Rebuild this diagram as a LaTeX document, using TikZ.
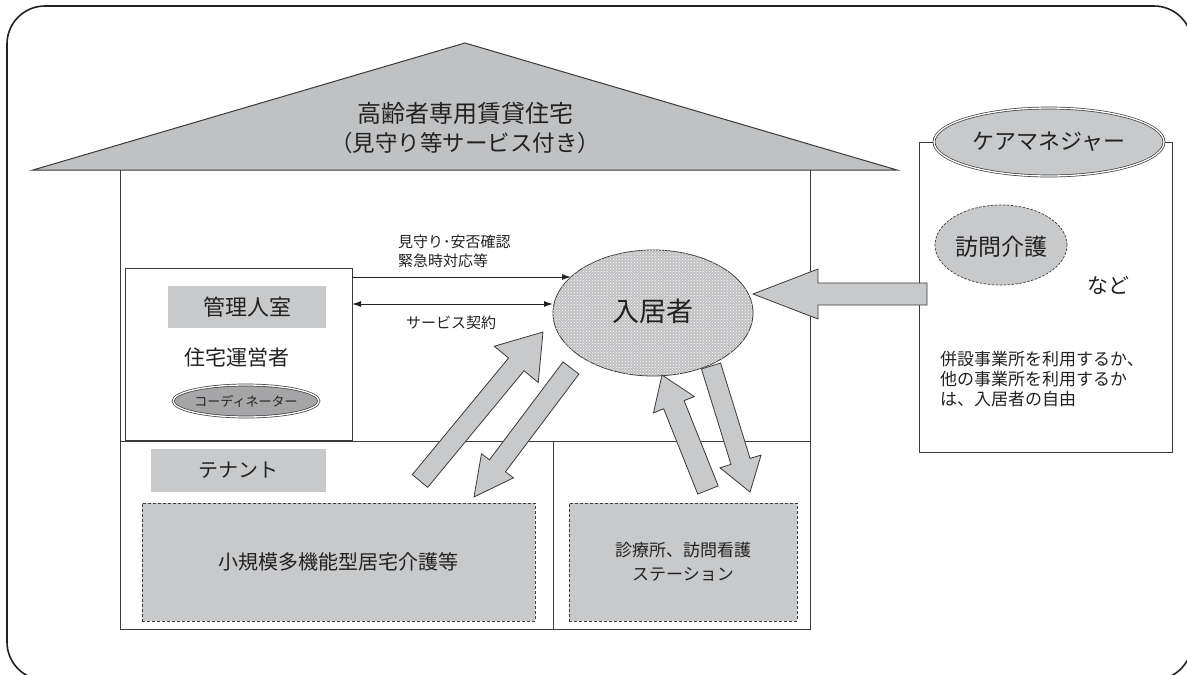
\documentclass[tikz,border=0pt]{standalone}
\usepackage{fontspec}
\setmainfont{Noto Sans CJK JP}
\usetikzlibrary{calc,shapes.geometric,arrows.meta,patterns}
\definecolor{lgray}{HTML}{C8C9CB}
\definecolor{roofgray}{HTML}{C0C1C3}
\definecolor{dgray}{HTML}{A6A6A8}
\definecolor{lineg}{HTML}{3A3A3A}
\definecolor{txt}{HTML}{222222}
\newcommand\fsz[1]{\fontsize{#1pt}{#1pt}\selectfont}
\newcommand\fatarrow[6]{% name, tail, tip, shaft half, head half, head length
  \coordinate (#1-h) at ($(#3)!#6!(#2)$);
  \draw[fatarr] ($(#2)!#4!90:(#3)$) -- ($(#1-h)!#4!90:(#3)$) -- ($(#1-h)!#5!90:(#3)$) -- (#3)
     -- ($(#1-h)!#5!-90:(#3)$) -- ($(#1-h)!#4!-90:(#3)$) -- ($(#2)!#4!-90:(#3)$) -- cycle;
}
\tikzset{
  houseline/.style={draw=lineg, line width=1pt},
  graylabel/.style={fill=lgray, draw=none, inner sep=0pt, text=txt},
  dashbox/.style={fill=lgray, draw=lineg, line width=0.8pt, dash pattern=on 3pt off 2pt, inner sep=0pt, text=txt, align=center},
  plain/.style={inner sep=0pt, text=txt},
  fatarr/.style={fill=lgray, draw=lineg, line width=0.8pt, line join=miter},
  thinarr/.style={draw=txt, line width=1pt},
  dblell/.style={ellipse, draw=lineg, double=white, double distance=1.3pt, line width=0.7pt, inner sep=0pt, text=txt},
}
\begin{document}
\begin{tikzpicture}[x=1pt,y=-1pt]
\useasboundingbox (0,0) rectangle (1187,675);
\clip (0,0) rectangle (1187,675);
% outer frame
\draw[line width=1.6pt, draw=txt, rounded corners=38pt] (7,6) rectangle (1192,680);
% roof
\draw[fill=roofgray, draw=lineg, line width=1pt, line join=miter] (33,170) -- (465,43) -- (897,170) -- cycle;
\node[plain, font=\fsz{24}] (title1) at (465,113) {高齢者専用賃貸住宅};
\node[plain, font=\fsz{22.5}] (title2) at (465,143) {（見守り等サービス付き）};
% house body
\draw[houseline] (120,170) -- (120,629) -- (810,629) -- (810,170);
\draw[houseline] (120,441) -- (810,441);
\draw[houseline] (553,441) -- (553,629);
% management room
\node[draw=lineg, line width=1pt, minimum width=227pt, minimum height=172pt, inner sep=0pt] (kanri) at (238.5,354) {};
\node[graylabel, minimum width=158pt, minimum height=42pt, font=\fsz{22}] (kanrilabel) at (247,307) {管理人室};
\node[plain, font=\fsz{21}] (unei) at (237,358) {住宅運営者};
\node[dblell, fill=dgray, minimum width=140pt, minimum height=32pt, font=\fsz{13}] (coord) at (246,401) {コーディネーター};
% tenant
\node[graylabel, minimum width=175pt, minimum height=43pt, font=\fsz{20}] (tenant) at (238.5,470.5) {テナント};
\node[dashbox, minimum width=393pt, minimum height=118pt, font=\fsz{20}] (shokibo) at (338.5,562) {小規模多機能型居宅介護等};
\node[dashbox, minimum width=228pt, minimum height=118pt, font=\fontsize{17pt}{24pt}\selectfont] (clinic) at (683,562) {診療所、訪問看護\\ステーション};
% resident
\node[ellipse, draw=lineg, line width=0.8pt, fill=roofgray, postaction={pattern=crosshatch dots, pattern color=white}, minimum width=200pt, minimum height=126pt, inner sep=0pt] (resident) at (653,313) {};
\node[plain, font=\fsz{27}] (residenttext) at (653,311) {入居者};
% thin arrows
\coordinate (m1) at (352,277);
\coordinate (r1) at (571,277);
\coordinate (m2) at (352,304);
\coordinate (r2) at (553,304);
\draw[thinarr, -{Latex[length=9pt,width=6pt]}] (m1) -- (r1);
\draw[thinarr, {Latex[length=9pt,width=6pt]}-{Latex[length=9pt,width=6pt]}] (m2) -- (r2);
\node[plain, anchor=west, align=left, font=\fontsize{15pt}{19pt}\selectfont] (mimamori) at (398,251.5) {見守り･安否確認\\緊急時対応等};
\node[plain, font=\fsz{15}] (keiyaku) at (451,323) {サービス契約};
% care manager box
\draw[draw=lineg, line width=1pt] (919,142) rectangle (1172,452);
\node[dblell, fill=lgray, minimum width=230pt, minimum height=68pt, font=\fsz{22}] (caremgr) at (1049,142) {ケアマネジャー};
\node[ellipse, fill=lgray, draw=lineg, line width=0.7pt, dash pattern=on 2.5pt off 1.5pt, minimum width=132pt, minimum height=80pt, inner sep=0pt] (houmon) at (1001,245) {};
\node[plain, font=\fsz{23}] (houmontext) at (1001,247) {訪問介護};
\node[plain, font=\fsz{21}] (nado) at (1108,285) {など};
\node[plain, anchor=west, align=left, font=\fontsize{17pt}{20pt}\selectfont] (jiyu) at (940,379) {併設事業所を利用するか、\\他の事業所を利用するか\\は、入居者の自由};
% fat arrows
\coordinate (a1t) at (420,481); \coordinate (a1p) at (543,332);
\coordinate (a2t) at (571,368); \coordinate (a2p) at (474,497);
\coordinate (a3t) at (708,490); \coordinate (a3p) at (662,375);
\coordinate (a4t) at (711,366); \coordinate (a4p) at (750,492);
\coordinate (a5t) at (927,294); \coordinate (a5p) at (753,294);
\fatarrow{a1}{a1t}{a1p}{10pt}{28.5pt}{42pt}
\fatarrow{a2}{a2t}{a2p}{10pt}{20pt}{39pt}
\fatarrow{a3}{a3t}{a3p}{11pt}{22pt}{32pt}
\fatarrow{a4}{a4t}{a4p}{10pt}{21.5pt}{32pt}
\fatarrow{a5}{a5t}{a5p}{11pt}{25pt}{65pt}
\end{tikzpicture}
\end{document}
